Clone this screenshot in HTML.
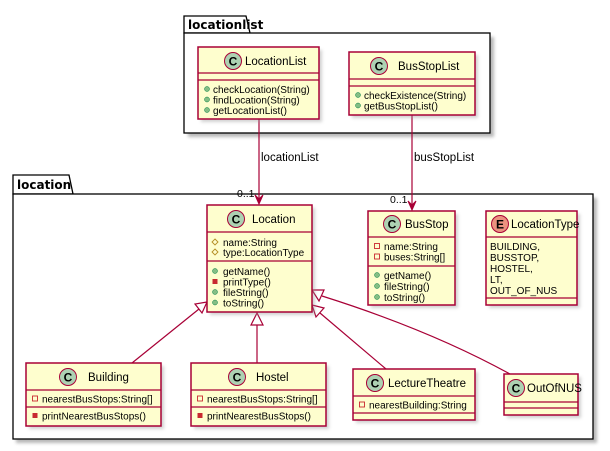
<!DOCTYPE html>
<html><head><meta charset="utf-8"><style>
html,body{margin:0;padding:0;background:#fff;}
svg{display:block;font-family:"Liberation Sans","DejaVu Sans",sans-serif;}
.b{fill:#FEFECE;stroke:#A80036;stroke-width:1.5;}
.l{stroke:#A80036;stroke-width:1.2;fill:none;}
.m{font-size:10px;fill:#000;}
.n{font-size:11.5px;fill:#000;}
.sh{fill:#999;opacity:.45;}
.pk{font-family:"DejaVu Sans",sans-serif;font-size:12px;font-weight:bold;}
</style></head><body>
<svg width="610" height="451" viewBox="0 0 610 451">
<defs>
<filter id="s" x="-10%" y="-10%" width="130%" height="130%"><feGaussianBlur stdDeviation="1.5"/></filter>
</defs>
<g>
<rect x="188" y="37" width="306" height="100" fill="#888" filter="url(#s)" opacity=".6"/>
<path d="M184 33 L184 16 L246 16 L250 33 Z" fill="#fff" stroke="#000" stroke-width="1.3"/>
<rect x="184" y="33" width="306" height="100" fill="#fff" stroke="#000" stroke-width="1.3"/>
<text x="188" y="29" class="pk">locationlist</text>

<rect x="16" y="198" width="581" height="245" fill="#888" filter="url(#s)" opacity=".6"/>
<path d="M13 194 L13 175 L69 175 L73 194 Z" fill="#fff" stroke="#000" stroke-width="1.3"/>
<rect x="13" y="194" width="580" height="245" fill="#fff" stroke="#000" stroke-width="1.3"/>
<text x="17" y="189" class="pk">location</text>
</g>

<g>
<line class="l" x1="259" y1="119" x2="259" y2="203"/>
<path d="M255 195 L259 204 L263 195 L259 199 Z" fill="#A80036" stroke="#A80036"/>
<text x="261" y="161" font-size="11.5">locationList</text>
<text x="237" y="197" font-size="10.5">0..1</text>
<line class="l" x1="412" y1="115" x2="412" y2="209"/>
<path d="M408 201 L412 210 L416 201 L412 205 Z" fill="#A80036" stroke="#A80036"/>
<text x="414" y="161" font-size="11.5">busStopList</text>
<text x="390" y="203" font-size="10.5">0..1</text>

<line class="l" x1="132" y1="363" x2="199" y2="309"/>
<path class="l" d="M207 302 L195 304 L202 313 Z" fill="#fff"/>
<line class="l" x1="257" y1="363" x2="257" y2="325"/>
<path class="l" d="M257 313 L251 325 L263 325 Z" fill="#fff"/>
<line class="l" x1="386" y1="369" x2="320" y2="313"/>
<path class="l" d="M312 305 L316 317 L324 308 Z" fill="#fff"/>
<path class="l" d="M510 374 Q430 330 322 296"/>
<path class="l" d="M312 290 L319 301 L324 290 Z" fill="#fff"/>
</g>

<g>
<rect x="201" y="50" width="121" height="72" class="sh" filter="url(#s)"/>
<rect x="198" y="47" width="121" height="72" class="b"/>
<line class="l" x1="198" y1="73" x2="319" y2="73"/><line class="l" x1="198" y1="80" x2="319" y2="80"/>
<circle cx="233" cy="61" r="8.5" fill="#ADD1B2" stroke="#A80036"/><text x="233" y="65.5" text-anchor="middle" font-size="12" font-weight="bold">C</text>
<text class="n" x="245" y="65">LocationList</text>
<circle cx="207" cy="89" r="2.5" fill="#84BE84" stroke="#038048" stroke-width=".5"/><text class="m" x="213" y="93">checkLocation(String)</text>
<circle cx="207" cy="99.5" r="2.5" fill="#84BE84" stroke="#038048" stroke-width=".5"/><text class="m" x="213" y="103.5">findLocation(String)</text>
<circle cx="207" cy="110" r="2.5" fill="#84BE84" stroke="#038048" stroke-width=".5"/><text class="m" x="213" y="114">getLocationList()</text>

<rect x="352" y="55" width="126" height="63" class="sh" filter="url(#s)"/>
<rect x="349" y="52" width="126" height="63" class="b"/>
<line class="l" x1="349" y1="79" x2="475" y2="79"/><line class="l" x1="349" y1="86" x2="475" y2="86"/>
<circle cx="379" cy="66" r="8.5" fill="#ADD1B2" stroke="#A80036"/><text x="379" y="70.5" text-anchor="middle" font-size="12" font-weight="bold">C</text>
<text class="n" x="398" y="70">BusStopList</text>
<circle cx="358" cy="95" r="2.5" fill="#84BE84" stroke="#038048" stroke-width=".5"/><text class="m" x="364" y="99">checkExistence(String)</text>
<circle cx="358" cy="105.5" r="2.5" fill="#84BE84" stroke="#038048" stroke-width=".5"/><text class="m" x="364" y="109.5">getBusStopList()</text>

<rect x="210" y="208" width="105" height="107" class="sh" filter="url(#s)"/>
<rect x="207" y="205" width="105" height="107" class="b"/>
<line class="l" x1="207" y1="232" x2="312" y2="232"/><line class="l" x1="207" y1="261" x2="312" y2="261"/>
<circle cx="236" cy="219" r="8.5" fill="#ADD1B2" stroke="#A80036"/><text x="236" y="223.5" text-anchor="middle" font-size="12" font-weight="bold">C</text>
<text class="n" x="252" y="223">Location</text>
<path d="M215 239 L218 242 L215 245 L212 242 Z" fill="none" stroke="#B38D22" stroke-width=".9"/><text class="m" x="223" y="246">name:String</text>
<path d="M215 249 L218 252 L215 255 L212 252 Z" fill="none" stroke="#B38D22" stroke-width=".9"/><text class="m" x="223" y="256">type:LocationType</text>
<circle cx="215" cy="271" r="2.5" fill="#84BE84" stroke="#038048" stroke-width=".5"/><text class="m" x="223" y="275">getName()</text>
<rect x="212.5" y="279" width="5" height="5" fill="#C82930"/><text class="m" x="223" y="285.5">printType()</text>
<circle cx="215" cy="292" r="2.5" fill="#84BE84" stroke="#038048" stroke-width=".5"/><text class="m" x="223" y="296">fileString()</text>
<circle cx="215" cy="302.5" r="2.5" fill="#84BE84" stroke="#038048" stroke-width=".5"/><text class="m" x="223" y="306.5">toString()</text>

<rect x="371" y="214" width="87" height="94" class="sh" filter="url(#s)"/>
<rect x="368" y="211" width="87" height="94" class="b"/>
<line class="l" x1="368" y1="237" x2="455" y2="237"/><line class="l" x1="368" y1="266" x2="455" y2="266"/>
<circle cx="392" cy="224" r="8.5" fill="#ADD1B2" stroke="#A80036"/><text x="392" y="228.5" text-anchor="middle" font-size="12" font-weight="bold">C</text>
<text class="n" x="405" y="228">BusStop</text>
<rect x="374.5" y="243.5" width="5" height="5" fill="none" stroke="#C82930" stroke-width=".9"/><text class="m" x="384" y="250">name:String</text>
<rect x="374.5" y="254" width="5" height="5" fill="none" stroke="#C82930" stroke-width=".9"/><text class="m" x="384" y="260.5">buses:String[]</text>
<circle cx="377" cy="275" r="2.5" fill="#84BE84" stroke="#038048" stroke-width=".5"/><text class="m" x="384" y="279">getName()</text>
<circle cx="377" cy="286" r="2.5" fill="#84BE84" stroke="#038048" stroke-width=".5"/><text class="m" x="384" y="290">fileString()</text>
<circle cx="377" cy="297" r="2.5" fill="#84BE84" stroke="#038048" stroke-width=".5"/><text class="m" x="384" y="301">toString()</text>

<rect x="489" y="214" width="91" height="94" class="sh" filter="url(#s)"/>
<rect x="486" y="211" width="91" height="94" class="b"/>
<line class="l" x1="486" y1="237" x2="577" y2="237"/><line class="l" x1="486" y1="298" x2="577" y2="298"/>
<circle cx="500" cy="224" r="8.5" fill="#EB937F" stroke="#A80036"/><text x="500" y="228.5" text-anchor="middle" font-size="12" font-weight="bold">E</text>
<text class="n" x="511" y="228">LocationType</text>
<text class="m" x="490" y="250">BUILDING,</text>
<text class="m" x="490" y="261">BUSSTOP,</text>
<text class="m" x="490" y="272">HOSTEL,</text>
<text class="m" x="490" y="283">LT,</text>
<text class="m" x="490" y="294">OUT_OF_NUS</text>

<rect x="29" y="366" width="135" height="63" class="sh" filter="url(#s)"/>
<rect x="26" y="363" width="135" height="63" class="b"/>
<line class="l" x1="26" y1="390" x2="161" y2="390"/><line class="l" x1="26" y1="407" x2="161" y2="407"/>
<circle cx="68" cy="377" r="8.5" fill="#ADD1B2" stroke="#A80036"/><text x="68" y="381.5" text-anchor="middle" font-size="12" font-weight="bold">C</text>
<text class="n" x="88" y="381">Building</text>
<rect x="32.5" y="396" width="5" height="5" fill="none" stroke="#C82930" stroke-width=".9"/><text class="m" x="42" y="402.5">nearestBusStops:String[]</text>
<rect x="32.5" y="413" width="5" height="5" fill="#C82930"/><text class="m" x="42" y="419.5">printNearestBusStops()</text>

<rect x="194" y="366" width="135" height="63" class="sh" filter="url(#s)"/>
<rect x="191" y="363" width="135" height="63" class="b"/>
<line class="l" x1="191" y1="390" x2="326" y2="390"/><line class="l" x1="191" y1="407" x2="326" y2="407"/>
<circle cx="237" cy="377" r="8.5" fill="#ADD1B2" stroke="#A80036"/><text x="237" y="381.5" text-anchor="middle" font-size="12" font-weight="bold">C</text>
<text class="n" x="256" y="381">Hostel</text>
<rect x="197.5" y="396" width="5" height="5" fill="none" stroke="#C82930" stroke-width=".9"/><text class="m" x="207" y="402.5">nearestBusStops:String[]</text>
<rect x="197.5" y="413" width="5" height="5" fill="#C82930"/><text class="m" x="207" y="419.5">printNearestBusStops()</text>

<rect x="356" y="372" width="122" height="51" class="sh" filter="url(#s)"/>
<rect x="353" y="369" width="122" height="51" class="b"/>
<line class="l" x1="353" y1="396" x2="475" y2="396"/><line class="l" x1="353" y1="413" x2="475" y2="413"/>
<circle cx="375" cy="383" r="8.5" fill="#ADD1B2" stroke="#A80036"/><text x="375" y="387.5" text-anchor="middle" font-size="12" font-weight="bold">C</text>
<text class="n" x="388" y="387">LectureTheatre</text>
<rect x="359.5" y="402" width="5" height="5" fill="none" stroke="#C82930" stroke-width=".9"/><text class="m" x="369" y="408.5">nearestBuilding:String</text>

<rect x="507" y="377" width="74" height="41" class="sh" filter="url(#s)"/>
<rect x="504" y="374" width="74" height="41" class="b"/>
<line class="l" x1="504" y1="402" x2="578" y2="402"/><line class="l" x1="504" y1="408" x2="578" y2="408"/>
<circle cx="516" cy="388" r="8.5" fill="#ADD1B2" stroke="#A80036"/><text x="516" y="392.5" text-anchor="middle" font-size="12" font-weight="bold">C</text>
<text class="n" x="527" y="392">OutOfNUS</text>
</g>
</svg>
</body></html>
